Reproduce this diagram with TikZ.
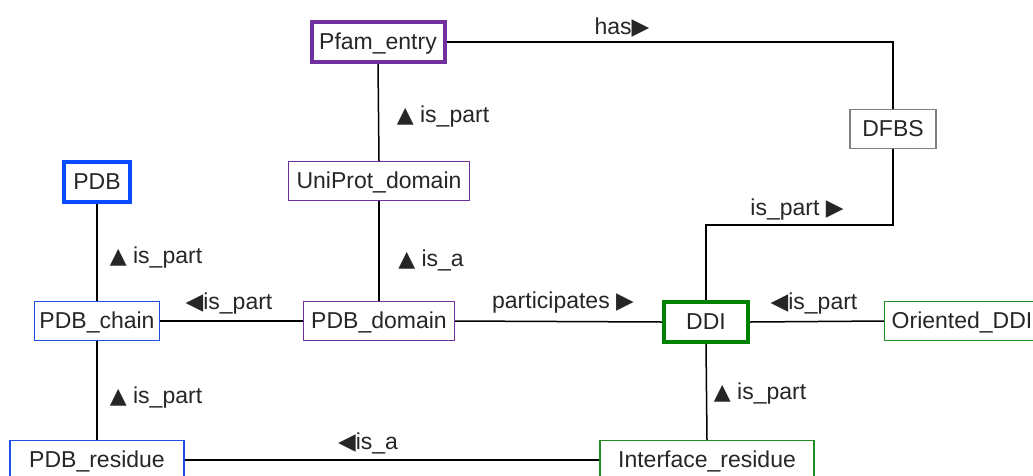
\documentclass[tikz,border=0pt]{standalone}
\usepackage{fontspec}
\setmainfont{Liberation Sans}
\newfontfamily\symf{DejaVu Sans}
\newcommand{\tru}{{\symf\fontsize{22}{24}\selectfont ▲}}
\newcommand{\trr}{{\symf\fontsize{23}{24}\selectfont ▶}}
\newcommand{\trl}{{\symf\fontsize{23}{24}\selectfont ◀}}
\begin{document}
\begin{tikzpicture}[x=1pt,y=-1pt,
  every node/.style={font=\fontsize{23}{27}\selectfont, text=black!85},
  ent/.style={draw, fill=white, line width=1.3pt, minimum height=39pt, inner sep=0pt, text height=19pt, text depth=5pt},
  bold/.style={ent, line width=4pt, minimum height=40pt},
  lab/.style={inner sep=0pt},
  conn/.style={line width=1.5pt, black}]
\definecolor{pur}{HTML}{7030A0}
\definecolor{blu}{HTML}{0A4BFF}
\definecolor{tblu}{HTML}{1F50E6}
\definecolor{grn}{HTML}{008000}
\definecolor{tgrn}{HTML}{228B22}
\definecolor{gry}{HTML}{808080}
\useasboundingbox (0,0) rectangle (1033,475);
% nodes
\node[bold, draw=pur, minimum width=133pt] (pfam) at (378,42) {Pfam\_entry};
\node[ent, draw=pur, minimum width=181pt] (uni) at (379,181) {UniProt\_domain};
\node[bold, draw=blu, minimum width=66pt] (pdb) at (97,182) {PDB};
\node[ent, draw=tblu, minimum width=125pt] (chain) at (97,321) {PDB\_chain};
\node[ent, draw=pur, minimum width=151pt] (dom) at (379,321) {PDB\_domain};
\node[bold, draw=grn, minimum width=84pt] (ddi) at (706,322) {DDI};
\node[ent, draw=tgrn, minimum width=155pt] (oddi) at (962,321) {Oriented\_DDI};
\node[ent, draw=gry, minimum width=86pt] (dfbs) at (893,129) {DFBS};
\node[ent, draw=tblu, minimum width=174pt] (res) at (97,460) {PDB\_residue};
\node[ent, draw=tgrn, minimum width=214pt] (ires) at (707,460) {Interface\_residue};
\coordinate (bend) at (893,225);
% connectors
\draw[conn] (pfam.east) -- (pfam.east -| dfbs.north) -- (dfbs.north);
\draw[conn] (pfam.south) -- (uni.north);
\draw[conn] (uni.south) -- (dom.north);
\draw[conn] (pdb.south) -- (chain.north);
\draw[conn] (chain.east) -- (dom.west);
\draw[conn] (dom.east) -- (ddi.west);
\draw[conn] (ddi.east) -- (oddi.west);
\draw[conn] (ddi.north) |- (bend) -- (dfbs.south);
\draw[conn] (chain.south) -- (res.north);
\draw[conn] (ddi.south) -- (ires.north);
\draw[conn] (res.east) -- (ires.west);
% labels
\node[lab] (l1) at (622,28) {has\trr};
\node[lab] (l2) at (443,117) {\tru{} is\_part};
\node[lab] (l3) at (431,260) {\tru{} is\_a};
\node[lab] (l4) at (156,258) {\tru{} is\_part};
\node[lab] (l5) at (229,304) {\trl is\_part};
\node[lab] (l6) at (563,303) {participates \trr};
\node[lab] (l7) at (814,304) {\trl is\_part};
\node[lab] (l8) at (797,210) {is\_part \trr};
\node[lab] (l9) at (156,398) {\tru{} is\_part};
\node[lab] (l10) at (760,394) {\tru{} is\_part};
\node[lab] (l11) at (368,443) {\trl is\_a};
\end{tikzpicture}
\end{document}
